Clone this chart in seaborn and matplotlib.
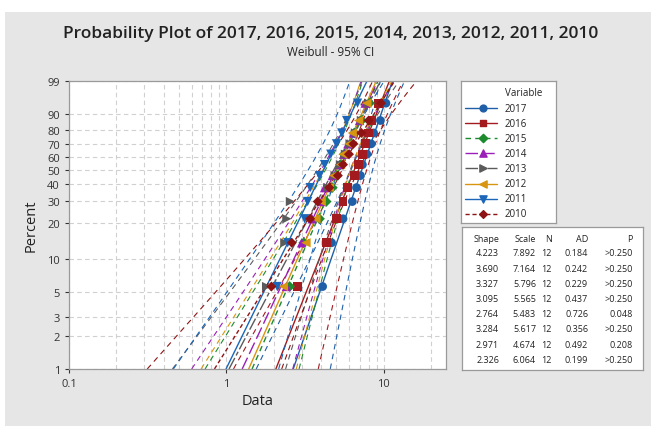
import numpy as np
import pandas as pd
import seaborn as sns
import matplotlib.pyplot as plt
from matplotlib.patches import Rectangle

# ---- data ----
years = ['2017', '2016', '2015', '2014', '2013', '2012', '2011', '2010']

d2017 = [4.08, 4.65, 5.50, 6.30, 6.70, 7.10, 7.30, 7.80, 8.30, 8.60, 9.50, 10.30]
d2016 = [2.83, 4.33, 5.00, 5.50, 5.90, 6.50, 6.90, 7.30, 7.60, 8.00, 8.40, 9.20]
d2015 = [2.52, 3.10, 3.90, 4.30, 4.70, 5.00, 5.30, 5.60, 6.20, 6.50, 7.20, 8.10]
d2014 = [2.40, 3.00, 3.50, 4.00, 4.20, 4.70, 5.20, 5.60, 5.90, 6.40, 7.00, 7.60]
d2013 = [1.80, 2.35, 2.42, 2.55, 4.40, 4.90, 5.30, 5.70, 6.10, 6.60, 7.20, 8.00]
d2012 = [2.30, 3.20, 3.70, 4.00, 4.50, 4.80, 5.30, 5.50, 6.00, 6.30, 6.90, 7.80]
d2011 = [2.10, 2.45, 3.14, 3.28, 3.40, 3.90, 4.20, 4.60, 5.00, 5.40, 5.80, 6.80]
d2010 = [1.93, 2.60, 3.40, 3.80, 4.50, 5.10, 5.50, 6.00, 6.40, 7.20, 8.00, 9.60]
series = [d2017, d2016, d2015, d2014, d2013, d2012, d2011, d2010]

shape = [4.223, 3.690, 3.327, 3.095, 2.764, 3.284, 2.971, 2.326]
scale = [7.892, 7.164, 5.796, 5.565, 5.483, 5.617, 4.674, 6.064]
n_obs = [12, 12, 12, 12, 12, 12, 12, 12]
ad = ['0.184', '0.242', '0.229', '0.437', '0.726', '0.356', '0.492', '0.199']
p_val = ['>0.250', '>0.250', '>0.250', '>0.250', '0.048', '>0.250', '0.208', '>0.250']

pct_ticks = [1, 2, 3, 5, 10, 20, 30, 40, 50, 60, 70, 80, 90, 99]

# ---- styles ----
colors = ['#1f5fa8', '#a31b1f', '#1d8a2e', '#9a1fb8', '#5b5b5b', '#d89512', '#1b66b8', '#8e1414']
markers = ['o', 's', 'D', '^', '>', '<', 'v', 'D']
msizes = [40, 40, 30, 45, 45, 45, 45, 26]
lstyles = ['-', '-', (0, (4, 3)), (0, (9, 3)), (0, (9, 2, 3, 2)), '-', '-', (0, (3, 2))]
bg = '#e6e6e6'


def wtrans(p):
    return np.log(-np.log(1 - p))


sns.set_theme(style='white')
plt.rcParams['font.family'] = ['Open Sans', 'DejaVu Sans']

W, H = 655, 427
fig = plt.figure(figsize=(W / 100, H / 100), dpi=100, facecolor='white')
fig.add_artist(Rectangle((5 / W, 0), 646 / W, (H - 13) / H, transform=fig.transFigure,
                         facecolor=bg, edgecolor='none', zorder=-10))

ax = fig.add_axes([69 / W, 1 - 370 / H, 377 / W, 288 / H])
ax.set_facecolor('white')

# Weibull fit lines and 95% confidence bands
w_grid = np.linspace(wtrans(0.01), wtrans(0.99), 300)
for i, yr in enumerate(years):
    b = 1 / shape[i]
    yp = np.log(scale[i]) + w_grid * b
    se = b / np.sqrt(n_obs[i]) * np.sqrt(1.1087 - 0.514 * w_grid + 0.6079 * w_grid ** 2)
    for xs, ls, lw in [(np.exp(yp), lstyles[i], 1.0),
                       (np.exp(yp - 1.96 * se), (0, (5, 4)), 0.8),
                       (np.exp(yp + 1.96 * se), (0, (5, 4)), 0.8)]:
        sns.lineplot(x=xs, y=w_grid, sort=False, estimator=None, color=colors[i],
                     linestyle=ls, linewidth=lw, ax=ax, zorder=2)

# data points at median ranks
for i, yr in enumerate(years):
    xs = np.sort(series[i])
    n = len(xs)
    ranks = (np.arange(1, n + 1) - 0.3) / (n + 0.4)
    sns.scatterplot(x=xs, y=wtrans(ranks), marker=markers[i], s=msizes[i], color=colors[i],
                    edgecolor='none', linewidth=0, ax=ax, zorder=3)

ax.set_xscale('log')
ax.set_xlim(0.1, 24.8)
ax.set_ylim(wtrans(0.01), wtrans(0.99))
ax.set_xticks([0.1, 1, 10])
ax.set_xticklabels(['0.1', '1', '10'])
ax.set_yticks(wtrans(np.array(pct_ticks) / 100))
ax.set_yticklabels([str(p) for p in pct_ticks])
ax.tick_params(axis='both', labelsize=8, colors='#333333', length=3, width=0.8,
               direction='out', bottom=True, left=True)
ax.tick_params(axis='x', which='minor', length=0)
ax.grid(True, which='both', axis='x', color='#d0d0d0', linestyle=(0, (4, 3)), linewidth=0.8)
ax.grid(True, which='major', axis='y', color='#d0d0d0', linestyle=(0, (4, 3)), linewidth=0.8)
for side in ax.spines.values():
    side.set_color('#9a9a9a')
    side.set_linewidth(0.9)
ax.set_xlabel('Data', fontsize=10.5, color='#222222', labelpad=3)
ax.set_ylabel('Percent', fontsize=10.5, color='#222222', labelpad=6)
ax.set_axisbelow(True)

fig.text(331 / W, 1 - 34 / H, 'Probability Plot of 2017, 2016, 2015, 2014, 2013, 2012, 2011, 2010',
         ha='center', va='center', fontsize=12.5, fontweight='semibold', color='#222222')
fig.text(331 / W, 1 - 52 / H, 'Weibull - 95% CI', ha='center', va='center', fontsize=8.5,
         color='#222222')

# ---- legend box (pixel coords inside) ----
lg = fig.add_axes([461 / W, 1 - 224 / H, 95 / W, 142 / H])
lg.set_xlim(0, 95)
lg.set_ylim(142, 0)
lg.set_xticks([])
lg.set_yticks([])
lg.set_facecolor('white')
for side in lg.spines.values():
    side.set_color('#9a9a9a')
    side.set_linewidth(0.9)
lg.text(44, 11, 'Variable', fontsize=7, va='center', color='#222222')
for i, yr in enumerate(years):
    yy = 27 + i * 15.1
    lg.plot([4, 36], [yy, yy], color=colors[i], linestyle=lstyles[i], linewidth=1.0)
    lg.scatter([22], [yy], marker=markers[i], s=msizes[i] * 0.6, color=colors[i], zorder=3)
    lg.text(44, yy, yr, fontsize=7, va='center', color='#222222')

# ---- statistics table ----
tb = fig.add_axes([462 / W, 1 - 371 / H, 181 / W, 143 / H])
tb.set_xlim(462, 643)
tb.set_ylim(371, 228)
tb.set_xticks([])
tb.set_yticks([])
tb.set_facecolor('white')
for side in tb.spines.values():
    side.set_color('#9a9a9a')
    side.set_linewidth(0.9)
col_x = [499, 536, 552, 588, 633]
headers = ['Shape', 'Scale', 'N', 'AD', 'P']
for cx, h in zip(col_x, headers):
    tb.text(cx, 240, h, fontsize=6.5, ha='right', va='center', color='#222222')
for i in range(len(years)):
    yy = 254 + i * 15.2
    vals = [f'{shape[i]:.3f}', f'{scale[i]:.3f}', str(n_obs[i]), ad[i], p_val[i]]
    for cx, v in zip(col_x, vals):
        tb.text(cx, yy, v, fontsize=6.5, ha='right', va='center', color='#222222')

fig.savefig('out.png', dpi=100, facecolor='white')
